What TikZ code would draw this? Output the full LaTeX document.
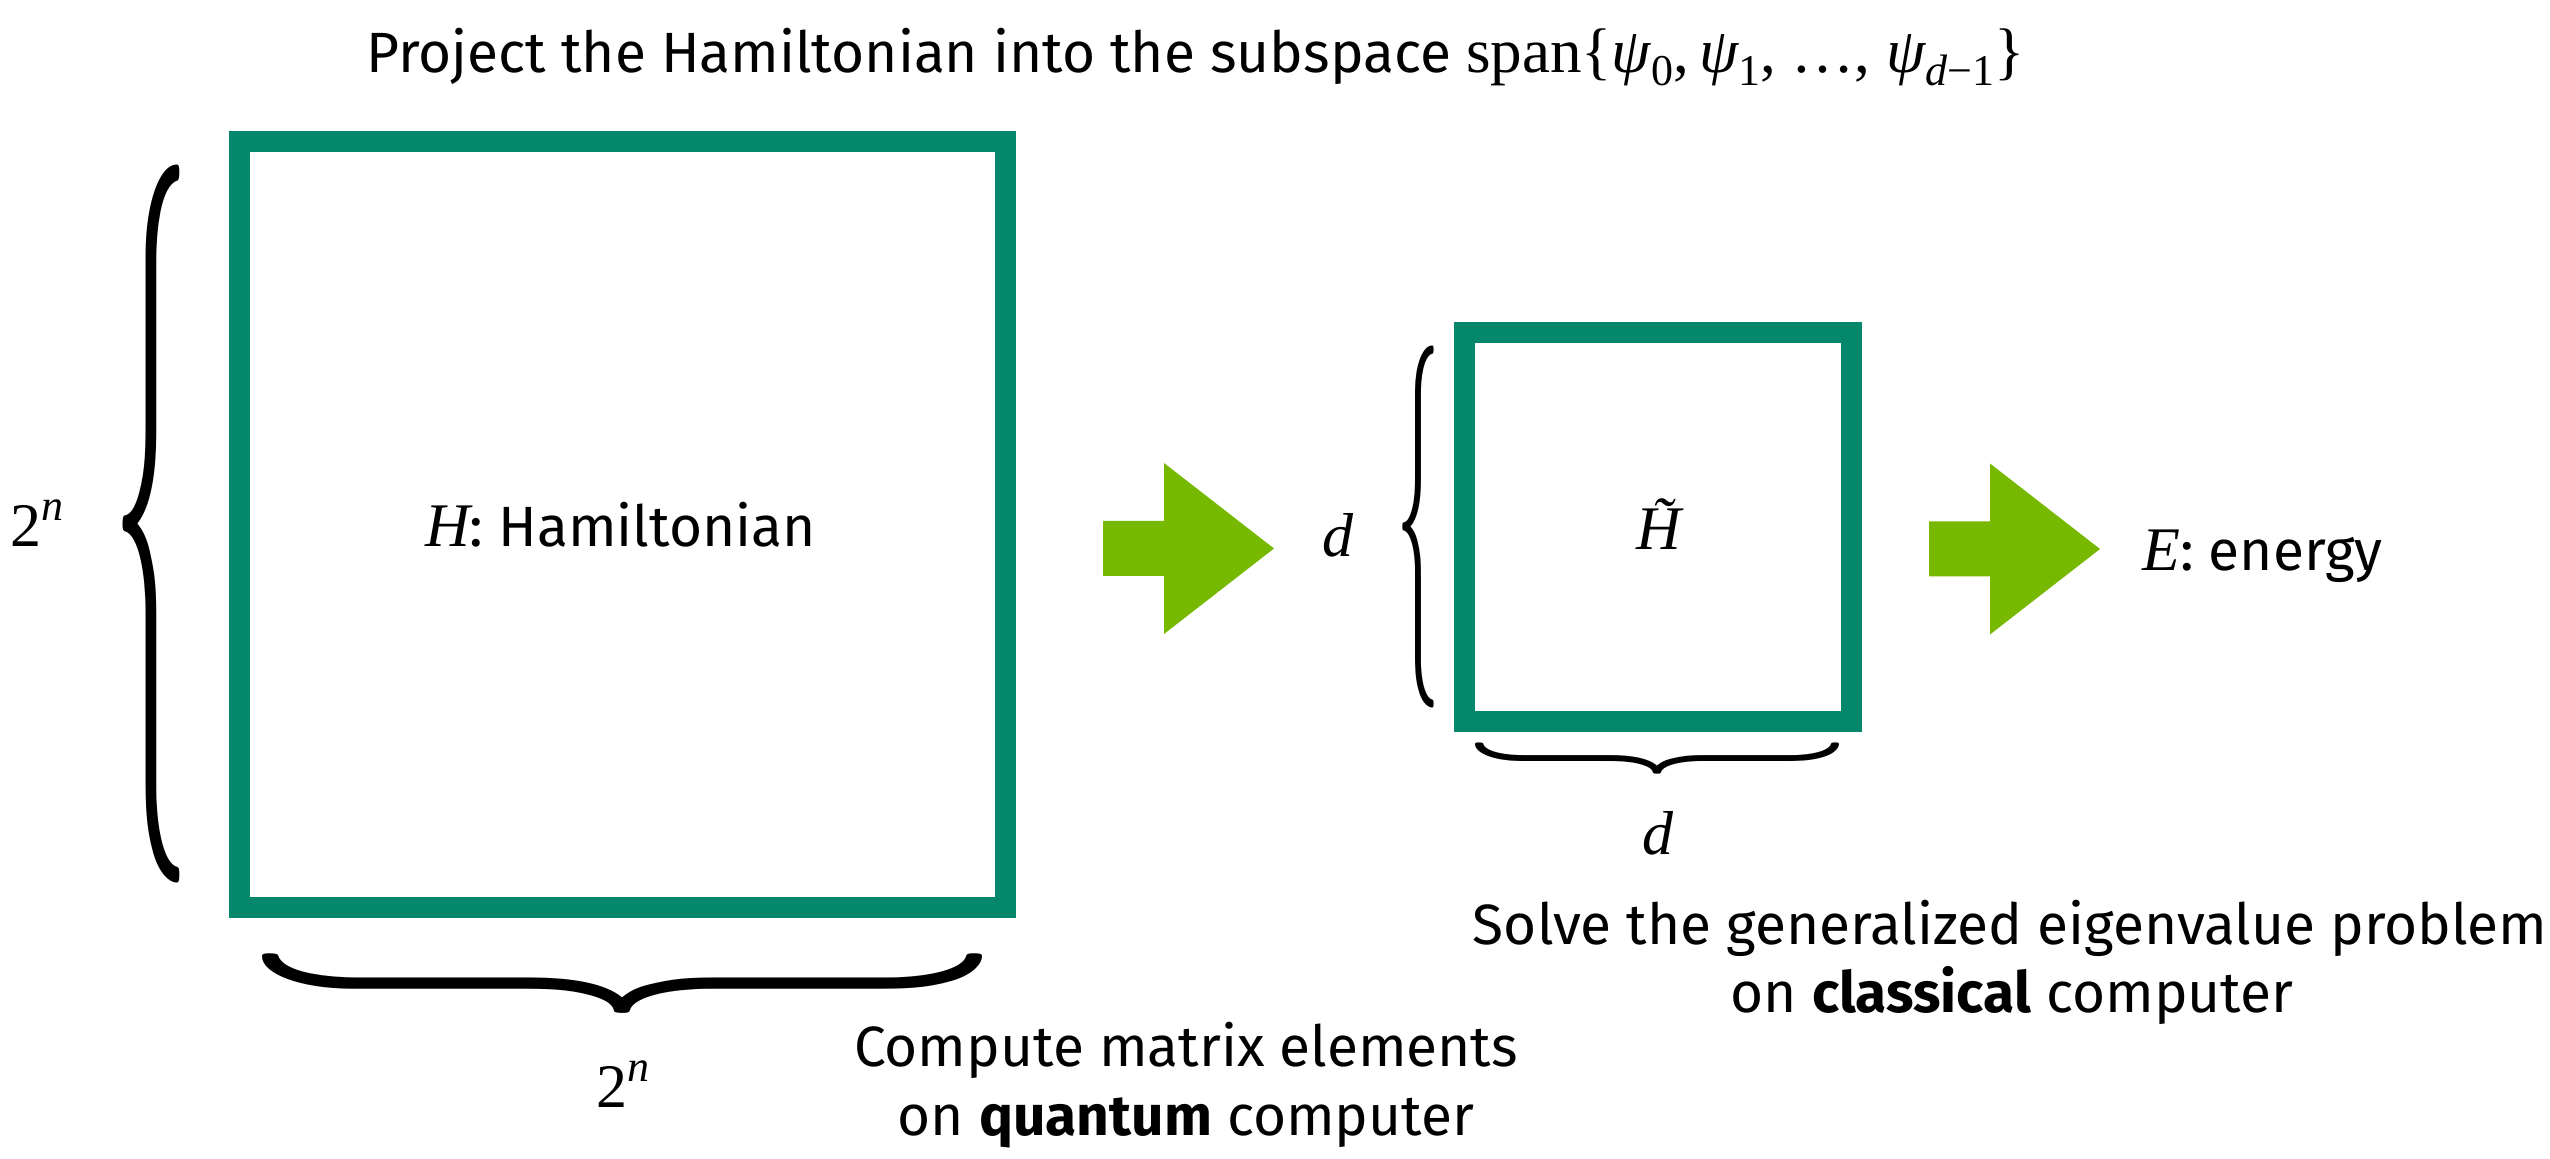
\documentclass[tikz,border=0pt]{standalone}
\usepackage{fontspec}
\setmainfont{Fira Sans}
\newfontfamily\serf{Liberation Serif}
\usepackage{graphicx}
\definecolor{boxgreen}{HTML}{04876A}
\definecolor{arrowgreen}{HTML}{76B900}
\newcommand{\vbr}[2]{\resizebox*{#1}{#2}{$\{$}}
\newcommand{\hbr}[2]{\resizebox*{#1}{#2}{\rotatebox{90}{$\{$}}}
\newcommand{\mi}[1]{{\serf\itshape #1}}
\newcommand{\sbs}[1]{\raisebox{-6.5pt}{\fontsize{22}{25}\selectfont #1}}
\newcommand{\twon}{{\serf 2\raisebox{13pt}{\fontsize{22}{26}\selectfont\itshape n}}}
\begin{document}
\begin{tikzpicture}[x=0.5pt,y=-0.5pt,
  txt/.style={font=\fontsize{28.4}{33}\selectfont, inner sep=0pt, anchor=base},
  mth/.style={font=\fontsize{31}{36}\selectfont, inner sep=0pt, anchor=base},
  matrixbox/.style={draw=boxgreen, line width=10.5pt, inner sep=0pt, rectangle},
  bracenode/.style={inner sep=0pt, anchor=center},
  blockarrow/.pic={\fill[arrowgreen] (0,-27.5) -- (61,-27.5) -- (61,-85.5) -- (171,0) -- (61,85.5) -- (61,27.5) -- (0,27.5) -- cycle;}
]
\useasboundingbox (0,0) rectangle (2550,1159);
% title
\node[txt, anchor=base west] (title) at (366,73) {Project the Hamiltonian into the subspace {\serf\fontsize{31.5}{37}\selectfont span\{\mi{ψ}\sbs{0},\,\mi{ψ}\sbs{1}, …, \mi{ψ}\sbs{\mi{d}−1}\}}};
% big matrix
\node[matrixbox, minimum width=383pt, minimum height=383pt] (H) at (622.5,524.5) {};
\node[mth] (Hlab) at (620.5,547) {\mi{H}\fontsize{28.4}{33}\selectfont: Hamiltonian};
\node[bracenode] (bl) at (151,524) {\vbr{40pt}{359pt}};
\node[mth] (twonl) at (37,547) {\twon};
\node[bracenode] (bb) at (622,983) {\hbr{360pt}{42pt}};
\node[mth] (twonb) at (623,1107) {\twon};
\node[txt] (q1) at (1186,1066) {Compute matrix elements};
\node[txt] (q2) at (1186,1135) {on \textbf{quantum} computer};
% arrow 1
\pic (a1) at (1103,548.5) {blockarrow};
% small matrix
\node[matrixbox, minimum width=193.5pt, minimum height=194.5pt] (Ht) at (1657.5,527.5) {};
\node[mth] (Htlab) at (1659,550) {\mi{H̃}};
\node[bracenode] (sl) at (1418.5,527) {\vbr{22pt}{181pt}};
\node[mth] (dl) at (1338,557) {\mi{d}};
\node[bracenode] (sb) at (1657,758.5) {\hbr{182pt}{22pt}};
\node[mth] (db) at (1658,855) {\mi{d}};
\node[txt] (c1) at (2010,944) {Solve the generalized eigenvalue problem};
\node[txt] (c2) at (2012,1012) {on \textbf{classical} computer};
% arrow 2
\pic (a2) at (1929,549) {blockarrow};
\node[mth, anchor=base west] (E) at (2142,571) {\mi{E}\fontsize{28.4}{33}\selectfont: energy};
\end{tikzpicture}
\end{document}
